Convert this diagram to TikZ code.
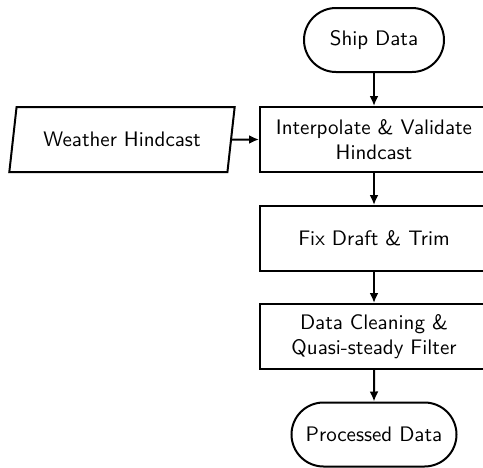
\documentclass[tikz,border=0pt]{standalone}
\usetikzlibrary{shapes.misc,shapes.geometric,arrows.meta}
\begin{document}
\begin{tikzpicture}[x=1pt,y=1pt,
  font=\sffamily\fontsize{10.5}{12.3}\selectfont,
  every node/.style={line width=1pt},
  term/.style={draw, rounded rectangle, minimum height=32pt, inner sep=2pt},
  proc/.style={draw, rectangle, minimum width=114pt, minimum height=32.5pt, align=center, inner sep=2pt},
  io/.style={draw, trapezium, trapezium left angle=76, trapezium right angle=104, trapezium stretches=true, minimum width=113pt, minimum height=32.5pt, inner sep=2pt},
  conn/.style={line width=1pt, -{Latex[length=5pt,width=4.5pt]}}]
\useasboundingbox (0,0) rectangle (241.5,-233.5);
\node[term, minimum width=74pt] (ship) at (187,-20) {Ship Data};
\node[proc] (interp) at (187,-69.75) {Interpolate \& Validate\\Hindcast};
\node[io] (weather) at (61,-69.75) {Weather Hindcast};
\node[proc] (fix) at (187,-119.25) {Fix Draft \& Trim};
\node[proc] (clean) at (187,-168.25) {Data Cleaning \&\\Quasi-steady Filter};
\node[term, minimum width=86.5pt] (out) at (187,-217.25) {Processed Data};
\draw[conn] (ship) -- (interp);
\draw[conn] (weather) -- (interp);
\draw[conn] (interp) -- (fix);
\draw[conn] (fix) -- (clean);
\draw[conn] (clean) -- (out);
\end{tikzpicture}
\end{document}
